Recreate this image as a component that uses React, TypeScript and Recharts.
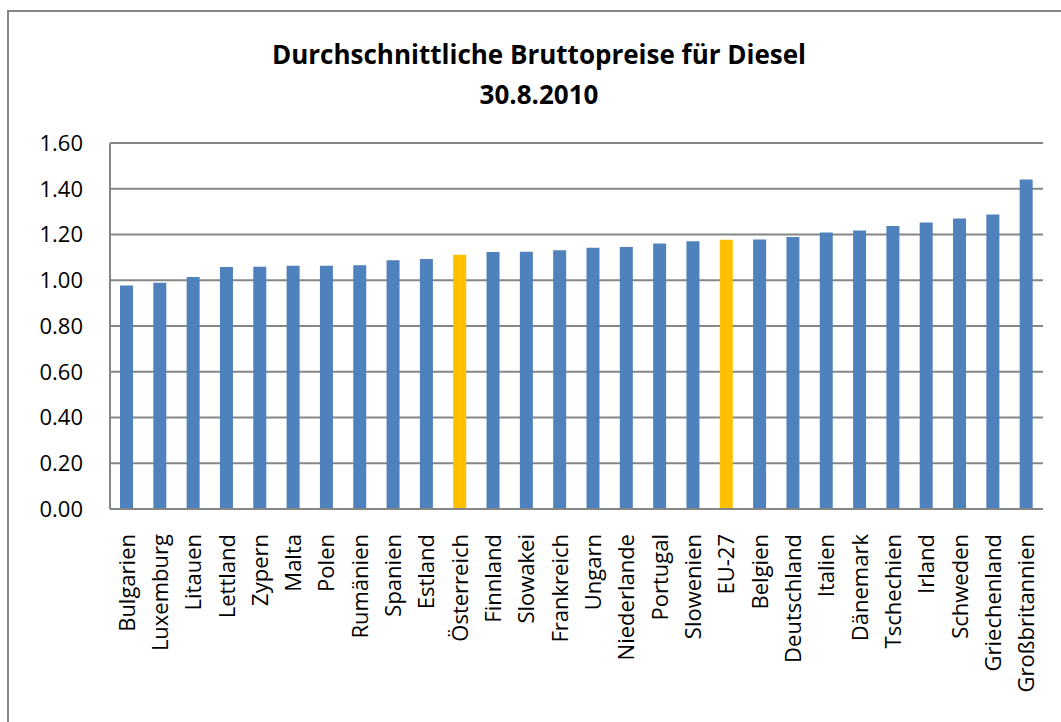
import { BarChart, Bar, XAxis, YAxis, CartesianGrid, Cell } from 'recharts';

const countries = [
  'Bulgarien', 'Luxemburg', 'Litauen', 'Lettland', 'Zypern', 'Malta', 'Polen', 'Rumänien',
  'Spanien', 'Estland', 'Österreich', 'Finnland', 'Slowakei', 'Frankreich', 'Ungarn',
  'Niederlande', 'Portugal', 'Slowenien', 'EU-27', 'Belgien', 'Deutschland', 'Italien',
  'Dänemark', 'Tschechien', 'Irland', 'Schweden', 'Griechenland', 'Großbritannien',
];

const prices = [
  0.977, 0.989, 1.014, 1.058, 1.059, 1.063, 1.063, 1.066,
  1.087, 1.093, 1.112, 1.123, 1.125, 1.131, 1.142,
  1.145, 1.161, 1.171, 1.177, 1.178, 1.189, 1.209,
  1.217, 1.237, 1.252, 1.270, 1.287, 1.440,
];

const highlighted = ['Österreich', 'EU-27'];
const yTicks = [0, 0.2, 0.4, 0.6, 0.8, 1.0, 1.2, 1.4, 1.6];

const data = countries.map((country, i) => ({ country, price: prices[i] }));

const FONT = '"Open Sans", sans-serif';

const CountryTick = ({ x, y, payload }: any) => (
  <text
    x={x}
    y={y + 23}
    transform={`rotate(-90, ${x}, ${y + 23})`}
    textAnchor="end"
    dy="0.36em"
    fill="#000"
    fontSize={22}
    fontFamily={FONT}
  >
    {payload.value}
  </text>
);

export default function App() {
  return (
    <div style={{ position: 'absolute', left: 0, top: 0, width: 1061, height: 722, background: '#fff', overflow: 'hidden' }}>
      <div style={{ position: 'absolute', left: 7, top: 10, width: 1100, height: 800, borderLeft: '2px solid #868686', borderTop: '2px solid #868686' }} />
      <div style={{ position: 'absolute', left: 0, top: 34, width: 1078, textAlign: 'center', fontFamily: FONT, fontWeight: 700, fontSize: 26, lineHeight: '40px', color: '#000' }}>
        Durchschnittliche Bruttopreise für Diesel<br />30.8.2010
      </div>
      <div style={{ position: 'absolute', left: 0, top: 0 }}>
        <BarChart width={1061} height={722} data={data} margin={{ top: 143, right: 18, left: 10, bottom: 13 }} barCategoryGap="30%">
          <CartesianGrid vertical={false} stroke="#868686" strokeWidth={2} />
          <XAxis dataKey="country" interval={0} height={200} tick={<CountryTick />} tickLine={false} tickSize={0}
            axisLine={{ stroke: '#868686', strokeWidth: 2 }} />
          <YAxis domain={[0, 1.6]} ticks={yTicks} width={100} tickLine={false} tickSize={0} tickMargin={27}
            axisLine={{ stroke: '#868686', strokeWidth: 2 }} tickFormatter={(v) => v.toFixed(2)}
            tick={{ fill: '#000', fontSize: 22, fontFamily: FONT }} />
          <Bar dataKey="price" isAnimationActive={false}>
            {data.map((d, i) => (
              <Cell key={i} fill={highlighted.includes(d.country) ? '#FFC000' : '#4F81BD'} />
            ))}
          </Bar>
        </BarChart>
      </div>
    </div>
  );
}
